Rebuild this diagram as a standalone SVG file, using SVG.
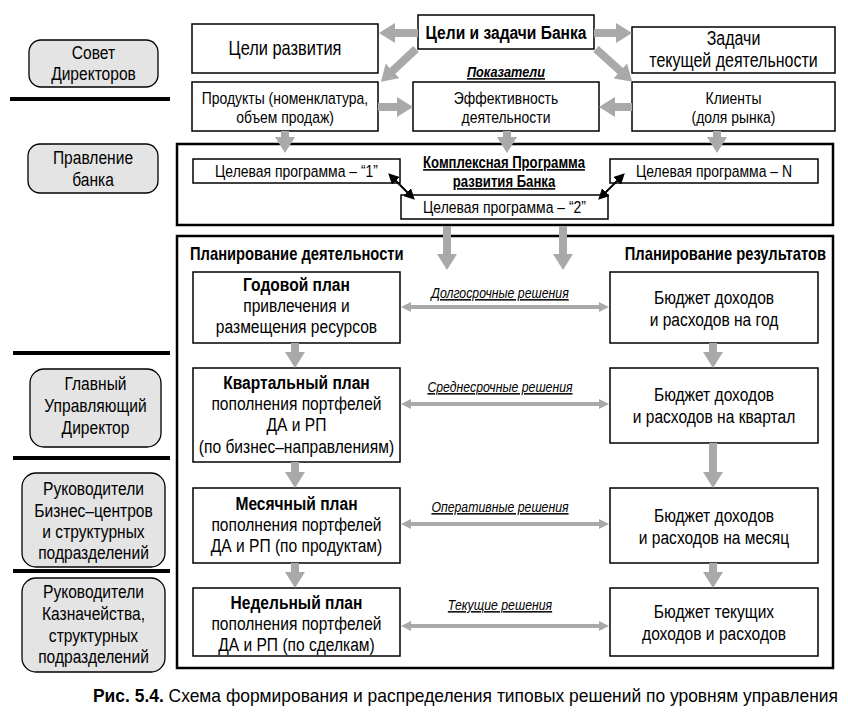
<svg xmlns="http://www.w3.org/2000/svg" width="848" height="725" viewBox="0 0 848 725">
<defs>
<style>
text{font-family:"Liberation Sans",Arial,sans-serif;fill:#000;}
.t{font-size:19px;text-anchor:middle;}
.tb{font-size:19px;text-anchor:middle;font-weight:bold;}
.s17{font-size:17px;}
.lbl{font-size:15px;text-anchor:middle;font-style:italic;text-decoration:underline;}
.box{fill:#fff;stroke:#000;stroke-width:1.5;}
.big{fill:#fff;stroke:#000;stroke-width:2.5;}
.lvl{fill:#e4e4e4;stroke:#000;stroke-width:1.3;}
.sep{stroke:#000;stroke-width:4;}
.ga{stroke:#a9a9a9;stroke-width:8;fill:none;marker-end:url(#gh);}
.gd{stroke:#a9a9a9;stroke-width:4;fill:none;marker-start:url(#dh);marker-end:url(#dh);}
.ba{stroke:#000;stroke-width:2;fill:none;marker-start:url(#bh);marker-end:url(#bh);}
</style>
<marker id="gh" markerUnits="userSpaceOnUse" markerWidth="16" markerHeight="20" refX="9" refY="10" orient="auto"><path d="M0,0 L16,10 L0,20 z" fill="#a9a9a9"/></marker>
<marker id="dh" markerUnits="userSpaceOnUse" markerWidth="10" markerHeight="10" refX="6" refY="5" orient="auto-start-reverse"><path d="M0,0 L10,5 L0,10 z" fill="#a9a9a9"/></marker>
<marker id="bh" markerUnits="userSpaceOnUse" markerWidth="11" markerHeight="11" refX="7" refY="5.5" orient="auto-start-reverse"><path d="M0,0 L11,5.5 L0,11 z" fill="#000"/></marker>
</defs>
<rect width="848" height="725" fill="#fff"/>

<g id="levels">
<g id="lvl-sovet"><rect class="lvl" x="29" y="40" width="129" height="47" rx="12"/><g transform="matrix(0.82 0 0 1 16.83 0)"><text class="t" x="93.5" y="59">Совет</text><text class="t" x="93.5" y="80">Директоров</text></g></g>
<g id="lvl-pravlenie"><rect class="lvl" x="28" y="144" width="130" height="49" rx="12"/><g transform="matrix(0.82 0 0 1 16.74 0)"><text class="t" x="93" y="164">Правление</text><text class="t" x="93" y="186">банка</text></g></g>
<g id="lvl-gud"><rect class="lvl" x="30" y="369" width="131" height="78" rx="14"/><g transform="matrix(0.82 0 0 1 17.19 0)"><text class="t" x="95.5" y="390">Главный</text><text class="t" x="95.5" y="412">Управляющий</text><text class="t" x="95.5" y="434">Директор</text></g></g>
<g id="lvl-biz"><rect class="lvl" x="22" y="473" width="143" height="94" rx="14"/><g transform="matrix(0.82 0 0 1 16.83 0)"><text class="t" x="93.5" y="495">Руководители</text><text class="t" x="93.5" y="517">Бизнес–центров</text><text class="t" x="93.5" y="538">и структурных</text><text class="t" x="93.5" y="559">подразделений</text></g></g>
<g id="lvl-kazn"><rect class="lvl" x="22" y="578" width="143" height="94" rx="14"/><g transform="matrix(0.82 0 0 1 16.83 0)"><text class="t" x="93.5" y="598">Руководители</text><text class="t" x="93.5" y="620">Казначейства,</text><text class="t" x="93.5" y="642">структурных</text><text class="t" x="93.5" y="663">подразделений</text></g></g>
<line class="sep" x1="10" y1="99" x2="170" y2="99"/>
<line class="sep" x1="13" y1="353" x2="170" y2="353"/>
<line class="sep" x1="13" y1="458" x2="170" y2="458"/>
<line class="sep" x1="13" y1="571" x2="170" y2="571"/>
</g>

<g id="goals-bank"><rect class="box" x="418" y="15" width="176" height="34"/><g transform="matrix(0.82 0 0 1 91.08 0)"><text class="tb" x="506" y="39">Цели и задачи Банка</text></g></g>
<g id="goals-dev"><rect class="box" x="192" y="24" width="186" height="49"/><g transform="matrix(0.82 0 0 1 51.3 0)"><text class="t" x="285" y="55" style="font-size:20px">Цели развития</text></g></g>
<g id="tasks-current"><rect class="box" x="632" y="27" width="203" height="46"/><g transform="matrix(0.82 0 0 1 132.03 0)"><text class="t" x="733.5" y="45" style="font-size:19.5px">Задачи</text><text class="t" x="733.5" y="67" style="font-size:19.5px">текущей деятельности</text></g></g>
<g id="indicators-label"><g transform="matrix(0.82 0 0 1 91.08 0)"><text class="tb" x="506" y="77" style="font-size:15.5px;font-style:italic;text-decoration:underline">Показатели</text></g></g>
<g id="products"><rect class="box" x="192" y="82" width="186" height="49"/><g transform="matrix(0.82 0 0 1 51.3 0)"><text class="t s17" x="285" y="104">Продукты (номенклатура,</text><text class="t s17" x="285" y="123">объем продаж)</text></g></g>
<g id="efficiency"><rect class="box" x="413" y="82" width="186" height="49"/><g transform="matrix(0.82 0 0 1 91.08 0)"><text class="t s17" x="506" y="104">Эффективность</text><text class="t s17" x="506" y="123">деятельности</text></g></g>
<g id="clients"><rect class="box" x="632" y="82" width="203" height="49"/><g transform="matrix(0.82 0 0 1 132.03 0)"><text class="t s17" x="733.5" y="104">Клиенты</text><text class="t s17" x="733.5" y="123">(доля рынка)</text></g></g>

<g id="program-frame"><rect class="big" x="177" y="144" width="656" height="81"/></g>
<g id="program-title"><g transform="matrix(0.82 0 0 1 90.72 0)"><text class="tb" x="504" y="168" style="font-size:16px;text-decoration:underline">Комплексная Программа</text><text class="tb" x="504" y="187" style="font-size:16px;text-decoration:underline">развития Банка</text></g></g>
<g id="program-1"><rect class="box" x="193" y="159" width="207" height="24"/><g transform="matrix(0.82 0 0 1 53.37 0)"><text class="t s17" x="296.5" y="177">Целевая программа – “1”</text></g></g>
<g id="program-2"><rect class="box" x="401" y="195" width="207" height="24"/><g transform="matrix(0.82 0 0 1 90.81 0)"><text class="t s17" x="504.5" y="213">Целевая программа – “2”</text></g></g>
<g id="program-n"><rect class="box" x="610" y="159" width="208" height="24"/><g transform="matrix(0.82 0 0 1 128.52 0)"><text class="t s17" x="714" y="177">Целевая программа – N</text></g></g>

<g id="planning-frame"><rect class="big" x="177" y="236" width="656" height="432"/><g transform="matrix(0.82 0 0 1 34.2 0)"><text class="tb" x="190" y="260" style="text-anchor:start;font-size:18px">Планирование деятельности</text></g><g transform="matrix(0.82 0 0 1 148.68 0)"><text class="tb" x="826" y="260" style="text-anchor:end;font-size:18px">Планирование результатов</text></g></g>

<g id="plan-year"><rect class="box" x="193" y="272" width="207" height="71"/><g transform="matrix(0.82 0 0 1 53.37 0)"><text class="tb" x="296.5" y="291">Годовой план</text><text class="t" x="296.5" y="312">привлечения и</text><text class="t" x="296.5" y="333">размещения ресурсов</text></g></g>
<g id="budget-year"><rect class="box" x="610" y="272" width="208" height="71"/><g transform="matrix(0.82 0 0 1 128.52 0)"><text class="t" x="714" y="304">Бюджет доходов</text><text class="t" x="714" y="326">и расходов на год</text></g></g>
<g id="plan-quarter"><rect class="box" x="193" y="368" width="207" height="94"/><g transform="matrix(0.82 0 0 1 53.37 0)"><text class="tb" x="296.5" y="389">Квартальный план</text><text class="t" x="296.5" y="410">пополнения портфелей</text><text class="t" x="296.5" y="431">ДА и РП</text><text class="t" x="296.5" y="453">(по бизнес–направлениям)</text></g></g>
<g id="budget-quarter"><rect class="box" x="610" y="368" width="208" height="75"/><g transform="matrix(0.82 0 0 1 128.52 0)"><text class="t" x="714" y="401">Бюджет доходов</text><text class="t" x="714" y="423">и расходов на квартал</text></g></g>
<g id="plan-month"><rect class="box" x="193" y="488" width="207" height="75"/><g transform="matrix(0.82 0 0 1 53.37 0)"><text class="tb" x="296.5" y="510">Месячный план</text><text class="t" x="296.5" y="531">пополнения портфелей</text><text class="t" x="296.5" y="552">ДА и РП (по продуктам)</text></g></g>
<g id="budget-month"><rect class="box" x="610" y="488" width="208" height="75"/><g transform="matrix(0.82 0 0 1 128.52 0)"><text class="t" x="714" y="522">Бюджет доходов</text><text class="t" x="714" y="544">и расходов на месяц</text></g></g>
<g id="plan-week"><rect class="box" x="193" y="588" width="207" height="68"/><g transform="matrix(0.82 0 0 1 53.37 0)"><text class="tb" x="296.5" y="609">Недельный план</text><text class="t" x="296.5" y="630">пополнения портфелей</text><text class="t" x="296.5" y="651">ДА и РП (по сделкам)</text></g></g>
<g id="budget-week"><rect class="box" x="610" y="588" width="208" height="68"/><g transform="matrix(0.82 0 0 1 128.52 0)"><text class="t" x="714" y="618">Бюджет текущих</text><text class="t" x="714" y="640">доходов и расходов</text></g></g>

<g id="connectors">
<line class="ga" x1="418" y1="33" x2="386" y2="33"/>
<line class="ga" x1="594" y1="33" x2="625" y2="33"/>
<line class="ga" x1="416" y1="49" x2="386" y2="77"/>
<line class="ga" x1="596" y1="49" x2="627" y2="77"/>
<line class="ga" x1="378" y1="107" x2="406" y2="107"/>
<line class="ga" x1="632" y1="107" x2="606" y2="107"/>
<line class="ga" x1="285" y1="131" x2="285" y2="146"/>
<line class="ga" x1="507" y1="131" x2="507" y2="146"/>
<line class="ga" x1="717" y1="131" x2="717" y2="146"/>
<line class="ga" x1="447" y1="226" x2="447" y2="263"/>
<line class="ga" x1="563" y1="226" x2="563" y2="263"/>
<line class="ga" x1="295" y1="343" x2="295" y2="361"/>
<line class="ga" x1="295" y1="462" x2="295" y2="481"/>
<line class="ga" x1="295" y1="563" x2="295" y2="581"/>
<line class="ga" x1="713" y1="343" x2="713" y2="361"/>
<line class="ga" x1="713" y1="443" x2="713" y2="481"/>
<line class="ga" x1="713" y1="563" x2="713" y2="581"/>
<line class="gd" x1="405" y1="307" x2="605" y2="307"/>
<line class="gd" x1="405" y1="404" x2="605" y2="404"/>
<line class="gd" x1="405" y1="524" x2="605" y2="524"/>
<line class="gd" x1="405" y1="626" x2="605" y2="626"/>
<g transform="matrix(0.82 0 0 1 90 0)">
<text class="lbl" x="500" y="298">Долгосрочные решения</text>
<text class="lbl" x="500" y="392">Среднесрочные решения</text>
<text class="lbl" x="500" y="512">Оперативные решения</text>
<text class="lbl" x="500" y="610">Текущие решения</text>
</g>
<line class="ba" x1="391" y1="176" x2="412" y2="197"/>
<line class="ba" x1="601" y1="197" x2="622" y2="176"/>
</g>

<g id="caption"><text x="93" y="702" style="font-size:19px" textLength="745" lengthAdjust="spacingAndGlyphs"><tspan font-weight="bold">Рис. 5.4.</tspan> Схема формирования и распределения типовых решений по уровням управления</text></g>
</svg>
